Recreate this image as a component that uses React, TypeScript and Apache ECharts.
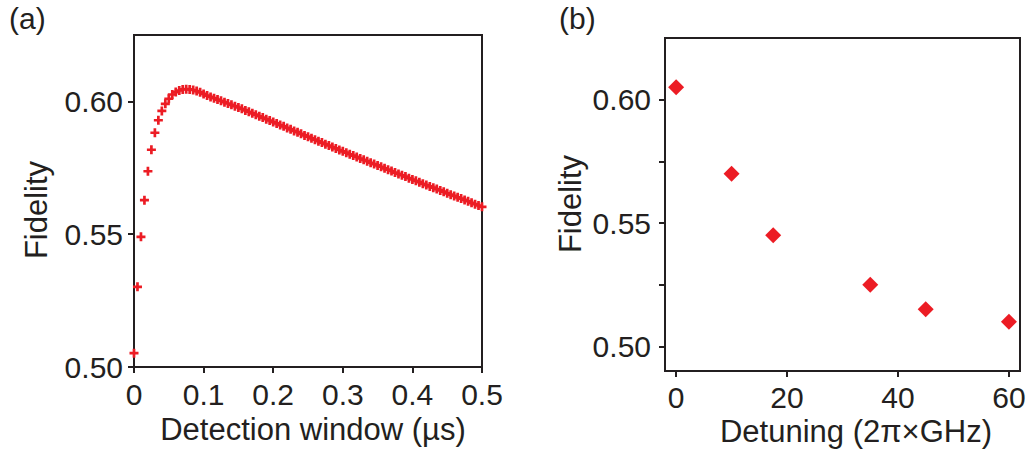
import React, { useEffect, useRef } from "react";
import * as echarts from "echarts";

// Panel (a): fidelity vs detection window (µs), sampled every 0.005 µs
const windowValues: number[] = Array.from({ length: 101 }, (_, i) => +(i * 0.005).toFixed(3));
const fidelityA: number[] = [
  0.5052, 0.5302, 0.549, 0.5628, 0.5737, 0.5818, 0.5882, 0.5929, 0.5964, 0.5991,
  0.601, 0.6026, 0.6035, 0.6041, 0.6045, 0.6046, 0.6045, 0.6043, 0.6039, 0.6034,
  0.6028, 0.6022, 0.6017, 0.6012, 0.6007, 0.6002, 0.5997, 0.5992, 0.5987, 0.5982,
  0.5977, 0.5972, 0.5966, 0.5961, 0.5955, 0.595, 0.5944, 0.5939, 0.5933, 0.5928,
  0.5922, 0.5917, 0.5911, 0.5906, 0.59, 0.5895, 0.5889, 0.5884, 0.5878, 0.5872,
  0.5867, 0.5861, 0.5856, 0.585, 0.5845, 0.5839, 0.5834, 0.5828, 0.5823, 0.5817,
  0.5812, 0.5807, 0.5801, 0.5796, 0.5791, 0.5785, 0.578, 0.5775, 0.5769, 0.5764,
  0.5759, 0.5754, 0.5748, 0.5743, 0.5738, 0.5732, 0.5727, 0.5722, 0.5717, 0.5711,
  0.5706, 0.5701, 0.5696, 0.569, 0.5685, 0.568, 0.5675, 0.567, 0.5665, 0.566,
  0.5654, 0.5649, 0.5644, 0.5639, 0.5634, 0.5629, 0.5624, 0.5618, 0.5613, 0.5608,
  0.5603,
];
const xTicksA: number[] = [0, 0.1, 0.2, 0.3, 0.4, 0.5];
const yTicksA: number[] = [0.5, 0.55, 0.6];

// Panel (b): fidelity vs detuning (2π×GHz)
const detuning: number[] = [0, 10, 17.5, 35, 45, 60];
const fidelityB: number[] = [0.605, 0.57, 0.545, 0.525, 0.515, 0.51];
const xTicksB: number[] = [0, 20, 40, 60];
const yLabelsB: number[] = [0.5, 0.55, 0.6];
const yTicksB: number[] = [0.5, 0.525, 0.55, 0.575, 0.6];

const FONT = "'Liberation Sans', Arial, Helvetica, sans-serif";
const INK = "#231f20";
const RED = "#ec1c24";
const PLUS = "path://M3.5,0H6.5V3.5H10V6.5H6.5V10H3.5V6.5H0V3.5H3.5Z";

const axisBase = {
  axisLine: { show: true, onZero: false, lineStyle: { color: INK, width: 2 } },
  splitLine: { show: false },
};

export default function App() {
  const ref = useRef<HTMLDivElement>(null);

  useEffect(() => {
    if (!ref.current) return;
    const chart = echarts.init(ref.current, null, { renderer: "svg" });
    const label = (size: number, margin: number) => ({
      color: INK,
      fontFamily: FONT,
      fontSize: size,
      lineHeight: 24,
      margin,
    });
    const tick = (values: number[]) => ({
      show: true,
      length: 6,
      lineStyle: { color: INK, width: 2 },
      customValues: values,
    });
    const title = (text: string, x: number, y: number, vertical = false) => ({
      type: "text",
      x,
      y,
      rotation: vertical ? Math.PI / 2 : 0,
      style: {
        text,
        font: `31px ${FONT}`,
        lineHeight: 24,
        fill: INK,
        align: "center",
        verticalAlign: "middle",
      },
    });
    chart.setOption({
      animation: false,
      backgroundColor: "#ffffff",
      grid: [
        { left: 134, top: 35, width: 348, height: 332, show: true, borderColor: INK, borderWidth: 2 },
        { left: 665, top: 38, width: 355, height: 333, show: true, borderColor: INK, borderWidth: 2 },
      ],
      xAxis: [
        {
          ...axisBase,
          gridIndex: 0,
          type: "value",
          min: 0,
          max: 0.5,
          axisTick: tick(xTicksA),
          axisLabel: {
            ...label(30, 15),
            customValues: xTicksA,
            formatter: (v: number) => (v === 0 ? "0" : v.toFixed(1)),
          },
        },
        {
          ...axisBase,
          gridIndex: 1,
          type: "value",
          min: -2,
          max: 62,
          axisTick: tick(xTicksB),
          axisLabel: { ...label(30, 14), customValues: xTicksB, formatter: (v: number) => String(v) },
        },
      ],
      yAxis: [
        {
          ...axisBase,
          gridIndex: 0,
          type: "value",
          min: 0.5,
          max: 0.625,
          axisTick: tick(yTicksA),
          axisLabel: { ...label(30, 11), customValues: yTicksA, formatter: (v: number) => v.toFixed(2) },
        },
        {
          ...axisBase,
          gridIndex: 1,
          type: "value",
          min: 0.49,
          max: 0.625,
          axisTick: tick(yTicksB),
          axisLabel: { ...label(30, 14), customValues: yLabelsB, formatter: (v: number) => v.toFixed(2) },
        },
      ],
      series: [
        {
          type: "scatter",
          xAxisIndex: 0,
          yAxisIndex: 0,
          symbol: PLUS,
          symbolSize: 9,
          clip: false,
          itemStyle: { color: RED, opacity: 1 },
          data: windowValues.map((x, i) => [x, fidelityA[i]]),
        },
        {
          type: "scatter",
          xAxisIndex: 1,
          yAxisIndex: 1,
          symbol: "diamond",
          symbolSize: 16,
          clip: false,
          itemStyle: { color: RED, opacity: 1 },
          data: detuning.map((x, i) => [x, fidelityB[i]]),
        },
      ],
      graphic: [
        { type: "text", left: 9, top: 3, style: { text: "(a)", font: `30px ${FONT}`, fill: INK } },
        { type: "text", left: 559, top: 3, style: { text: "(b)", font: `30px ${FONT}`, fill: INK } },
        title("Detection window (µs)", 313, 429),
        title("Detuning (2π×GHz)", 856, 431),
        title("Fidelity", 36, 210, true),
        title("Fidelity", 570, 204, true),
      ],
    });
    return () => chart.dispose();
  }, []);

  return (
    <div
      ref={ref}
      style={{ position: "fixed", left: 0, top: 0, width: 1032, height: 451, background: "#fff" }}
    />
  );
}
